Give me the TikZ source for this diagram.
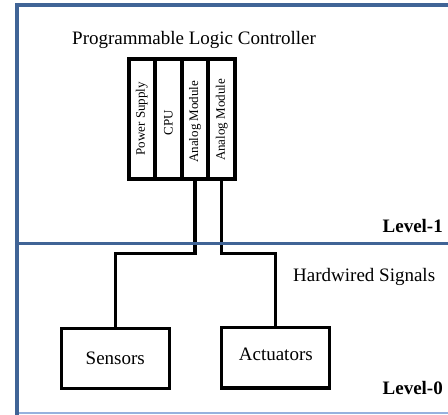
\documentclass[tikz,border=0pt]{standalone}
\usepackage{fontspec}
\setmainfont{Liberation Serif}
\usepackage{graphicx}
\definecolor{frameblue}{RGB}{64,100,150}
\definecolor{framelight}{RGB}{150,178,222}

\begin{document}
\begin{tikzpicture}[x=1pt,y=-1pt,
  module/.style={draw, line width=4pt, outer sep=0pt, inner sep=0pt,
    minimum width=26.6pt, minimum height=120pt,
    font=\fontsize{13}{15}\selectfont},
  device/.style={draw, line width=3.3pt, outer sep=0pt, inner sep=0pt,
    minimum width=108pt, minimum height=60.5pt,
    font=\fontsize{19}{22}\selectfont},
  wire/.style={line width=3.3pt, line join=miter},
  caption/.style={inner sep=0pt, font=\fontsize{19}{22}\selectfont},
  levelmark/.style={inner sep=0pt, font=\fontsize{19}{22}\selectfont\bfseries},
]
\useasboundingbox (0,0) rectangle (448,415);

% PLC rack: four modules side by side
\node[module] (m1) at (141.8,118.7) {\rotatebox{90}{Power Supply}};
\node[module] (m2) at (168.4,118.7) {\rotatebox{90}{CPU\hspace{8pt}}};
\node[module] (m3) at (195.1,118.7) {\rotatebox{90}{Analog Module\hspace{6pt}}};
\node[module] (m4) at (221.7,118.7) {\rotatebox{90}{Analog Module\hspace{2.6pt}}};

\node[caption, anchor=base west] (plc) at (72,44) {Programmable Logic Controller};

% field devices
\node[device] (sens) at (115.3,358.5) {Sensors};
\node[device, text height=13pt, text depth=8pt] (act) at (275.8,357.8) {Actuators};

% hardwired signal runs
\draw[wire] (m3.south) -- ++(0,74.6) -| (sens.north);
\draw[wire] (m4.south) -- ++(0,74.6) -| (act.north);

\node[caption, anchor=base west] (hw) at (293,281.7) {Hardwired Signals};
\node[levelmark, anchor=base east] (lv1) at (443,232) {Level-1};
\node[levelmark, anchor=base east] (lv0) at (443,394.5) {Level-0};

% level frame and divider
\draw[framelight, line width=2pt] (17,412.7) -- (448,412.7);
\draw[frameblue, line width=4pt, line join=miter] (17,415) -- (17,5.3) -- (448,5.3);
\draw[frameblue, line width=3pt] (17,243) -- (448,243);
\end{tikzpicture}
\end{document}
